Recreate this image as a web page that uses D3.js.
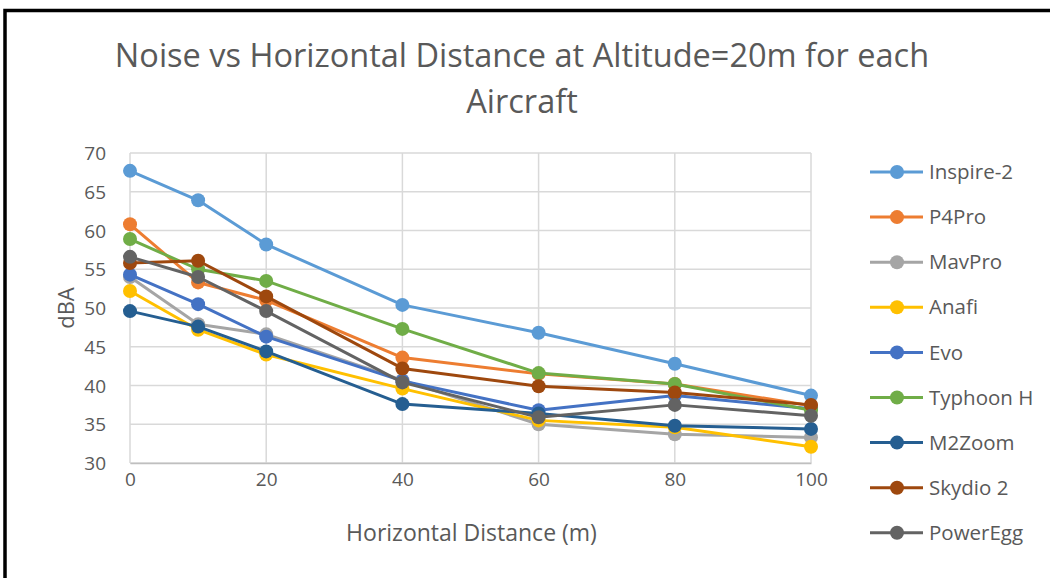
<!DOCTYPE html>
<html>
<head>
<meta charset="utf-8">
<script src="https://cdn.jsdelivr.net/npm/d3@7"></script>
<style>
  body { margin: 0; background: #fff; }
  svg { display: block; }
</style>
</head>
<body>
<div id="chart"></div>
<script>
let distances = [0, 10, 20, 40, 60, 80, 100];
let aircraft = ["Inspire-2", "P4Pro", "MavPro", "Anafi", "Evo", "Typhoon H", "M2Zoom", "Skydio 2", "PowerEgg"];
let colors = ["#5B9BD5", "#ED7D31", "#A5A5A5", "#FFC000", "#4472C4", "#70AD47", "#255E91", "#9E480E", "#636363"];

let inspire2 = [67.7, 63.9, 58.2, 50.4, 46.8, 42.8, 38.7];
let p4pro    = [60.8, 53.3, 51.0, 43.6, 41.5, 40.2, 37.4];
let mavpro   = [54.0, 47.9, 46.6, 40.7, 35.0, 33.7, 33.3];
let anafi    = [52.2, 47.2, 44.0, 39.6, 35.5, 34.6, 32.1];
let evo      = [54.3, 50.5, 46.3, 40.6, 36.8, 38.7, 37.0];
let typhoonH = [58.9, 55.0, 53.5, 47.3, 41.6, 40.2, 36.8];
let m2zoom   = [49.6, 47.6, 44.4, 37.6, 36.4, 34.8, 34.4];
let skydio2  = [55.8, 56.1, 51.5, 42.2, 39.9, 39.1, 37.5];
let powerEgg = [56.6, 54.0, 49.6, 40.4, 35.9, 37.5, 36.1];

let series = [inspire2, p4pro, mavpro, anafi, evo, typhoonH, m2zoom, skydio2, powerEgg];

let yTicks = [30, 35, 40, 45, 50, 55, 60, 65, 70];
let xTicks = [0, 20, 40, 60, 80, 100];

let w = 1050, h = 578;
let font = "'Open Sans', sans-serif";
let textColor = "#595959";

let svg = d3.select("#chart").append("svg")
  .attr("width", w).attr("height", h)
  .attr("viewBox", "0 0 " + w + " " + h);

// frame
svg.append("rect")
  .attr("x", 5).attr("y", 10.5)
  .attr("width", w + 20).attr("height", h + 20)
  .attr("fill", "none").attr("stroke", "#000").attr("stroke-width", 3.5);

// scales
let xScale = d3.scaleLinear().domain([0, 100]).range([130, 811]);
let yScale = d3.scaleLinear().domain([30, 70]).range([463, 153]);

// grid
svg.append("g").selectAll("line").data(yTicks).join("line")
  .attr("x1", xScale(0)).attr("x2", xScale(100))
  .attr("y1", d => yScale(d)).attr("y2", d => yScale(d))
  .attr("stroke", "#D9D9D9").attr("stroke-width", 1.5);
svg.append("g").selectAll("line").data(xTicks).join("line")
  .attr("x1", d => xScale(d)).attr("x2", d => xScale(d))
  .attr("y1", yScale(30)).attr("y2", yScale(70))
  .attr("stroke", "#D9D9D9").attr("stroke-width", 1.5);

// axes
let yAxis = d3.axisLeft(yScale).tickValues(yTicks).tickSize(0).tickPadding(0);
let gy = svg.append("g").attr("transform", "translate(106,0)").call(yAxis);
gy.select(".domain").remove();
gy.selectAll("text").attr("font-family", font).attr("font-size", "19px")
  .attr("fill", textColor).attr("dy", "0.35em");

let xAxis = d3.axisBottom(xScale).tickValues(xTicks).tickSize(0).tickPadding(10);
let gx = svg.append("g").attr("transform", "translate(0," + yScale(30) + ")").call(xAxis);
gx.select(".domain").attr("stroke", "#BFBFBF").attr("stroke-width", 1.5);
gx.selectAll("text").attr("font-family", font).attr("font-size", "19px").attr("fill", textColor);

// lines and markers
let line = d3.line().x((d, i) => xScale(distances[i])).y(d => yScale(d));
series.forEach((vals, k) => {
  let g = svg.append("g");
  g.append("path").datum(vals)
    .attr("d", line).attr("fill", "none")
    .attr("stroke", colors[k]).attr("stroke-width", 3).attr("stroke-linejoin", "round");
  g.selectAll("circle").data(vals).join("circle")
    .attr("cx", (d, i) => xScale(distances[i])).attr("cy", d => yScale(d))
    .attr("r", 7).attr("fill", colors[k]);
});

// title
let title = svg.append("text").attr("text-anchor", "middle")
  .attr("font-family", font).attr("font-size", "32.5px").attr("fill", textColor);
title.append("tspan").attr("x", 522).attr("y", 67).text("Noise vs Horizontal Distance at Altitude=20m for each");
title.append("tspan").attr("x", 522).attr("y", 113).text("Aircraft");

// axis titles
svg.append("text").attr("text-anchor", "middle")
  .attr("x", xScale(50) + 1).attr("y", 541)
  .attr("font-family", font).attr("font-size", "23px").attr("fill", textColor)
  .text("Horizontal Distance (m)");
svg.append("text").attr("text-anchor", "middle")
  .attr("transform", "translate(74," + yScale(50) + ") rotate(-90)")
  .attr("font-family", font).attr("font-size", "22px").attr("fill", textColor)
  .text("dBA");

// legend
let legend = svg.append("g").selectAll("g").data(aircraft).join("g")
  .attr("transform", (d, i) => "translate(870," + (172 + i * 45.1) + ")");
legend.append("line").attr("x1", 0).attr("x2", 53)
  .attr("stroke", (d, i) => colors[i]).attr("stroke-width", 3);
legend.append("circle").attr("cx", 27).attr("r", 7).attr("fill", (d, i) => colors[i]);
legend.append("text").attr("x", 59).attr("dy", "0.35em")
  .attr("font-family", font).attr("font-size", "20.5px").attr("fill", textColor)
  .text(d => d);
</script>
</body>
</html>
